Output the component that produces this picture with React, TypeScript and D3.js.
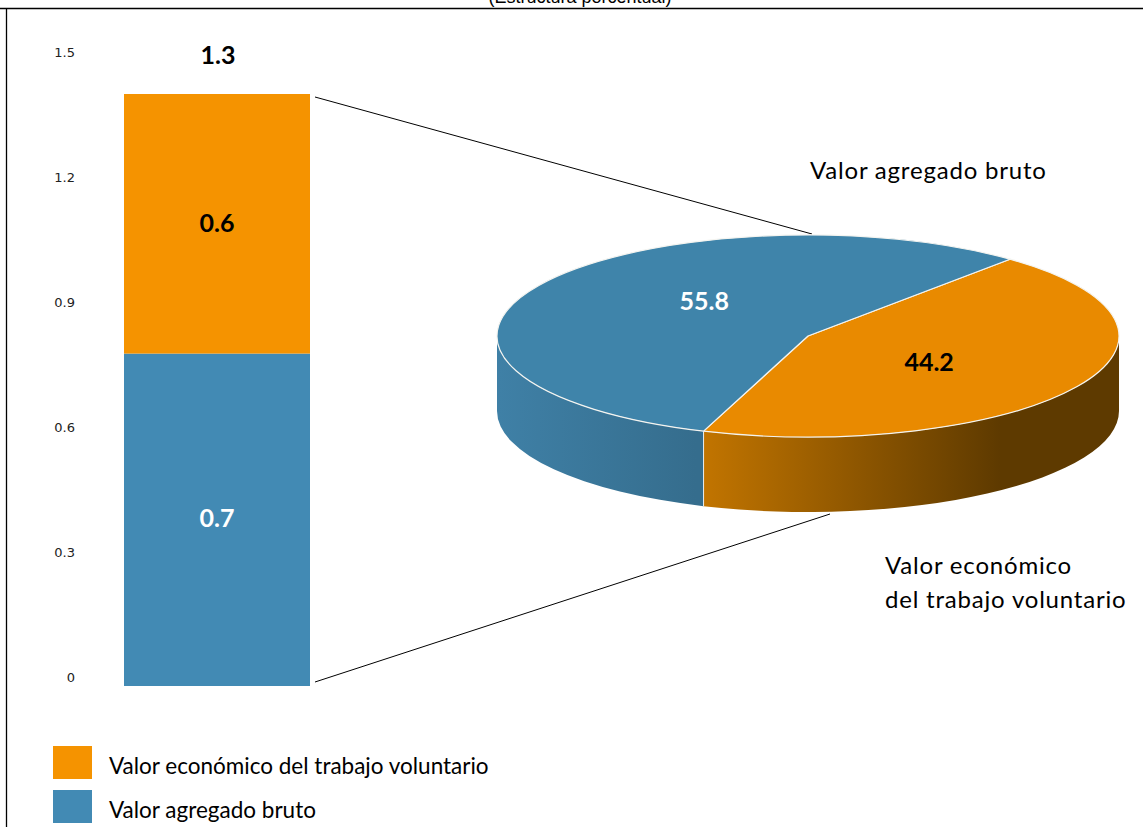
import * as d3 from "d3";

// bar: millions (stacked), pie: percent structure
const series = ["Valor económico del trabajo voluntario", "Valor agregado bruto"];
const barValues = [0.57, 0.73];
const pieValues = [44.2, 55.8];
const yTicks = [0, 0.3, 0.6, 0.9, 1.2, 1.5];

const W = 1143;
const H = 827;
const barColors = ["#f59300", "#428ab4"];
const topColors = ["#e98a00", "#3f84aa"];
const font = "Lato, 'Open Sans', sans-serif";

const App = () => {
  const total = d3.sum(barValues);

  // tick labels sit on their own axis scale, the bar on the value scale
  const axisY = d3.scaleLinear().domain([0, 1.5]).range([678, 53]);
  const barY = d3.scaleLinear().domain([0, total]).range([686, 94]);
  const barX = d3.scaleBand().domain(["total"]).range([124, 310]).padding(0);

  // stack: blue at the bottom, orange on top
  const stacked = [
    { key: series[1], y0: 0, y1: barValues[1], color: barColors[1] },
    { key: series[0], y0: barValues[1], y1: total, color: barColors[0] },
  ];

  // 3D pie
  const cx = 808, cy = 336, rx = 311, ry = 101, depth = 75;
  const startDeg = 40.5;
  const pieGen = d3.pie<number>().sort(null)
    .startAngle((startDeg * Math.PI) / 180)
    .endAngle((startDeg * Math.PI) / 180 + 2 * Math.PI);
  const slices = pieGen(pieValues);

  const pt = (a: number, dy = 0, k = 1) => [cx + k * rx * Math.sin(a), cy - k * ry * Math.cos(a) + dy];

  const topPath = (a0: number, a1: number) => {
    const p0 = pt(a0), p1 = pt(a1);
    const large = a1 - a0 > Math.PI ? 1 : 0;
    return `M${cx},${cy}L${p0[0]},${p0[1]}A${rx},${ry} 0 ${large} 1 ${p1[0]},${p1[1]}Z`;
  };

  const sidePath = (a0: number, a1: number) => {
    // clip to visible front half (pi/2 .. 3pi/2)
    const norm = (a: number) => ((a % (2 * Math.PI)) + 2 * Math.PI) % (2 * Math.PI);
    const s = norm(a0), e = s + (a1 - a0);
    const lo = Math.PI / 2, hi = (3 * Math.PI) / 2;
    const segs: [number, number][] = [];
    for (const off of [0, 2 * Math.PI, -2 * Math.PI]) {
      const ss = Math.max(s, lo + off), ee = Math.min(e, hi + off);
      if (ee > ss) segs.push([ss, ee]);
    }
    return segs.map(([b0, b1]) => {
      const p0 = pt(b0), p1 = pt(b1), q1 = pt(b1, depth), q0 = pt(b0, depth);
      return `M${p0[0]},${p0[1]}A${rx},${ry} 0 0 1 ${p1[0]},${p1[1]}L${q1[0]},${q1[1]}A${rx},${ry} 0 0 0 ${q0[0]},${q0[1]}Z`;
    }).join("");
  };

  const fmt = d3.format(".1f");
  const sideFills = ["url(#sideOrange)", "url(#sideBlue)"];
  const labelFill = ["#000", "#fff"];
  const midX = barX("total")! + barX.bandwidth() / 2;

  return (
    <svg width={W} height={H} style={{ position: "absolute", left: 0, top: 0, background: "#fff" }}>
      <defs>
        <linearGradient id="sideOrange" gradientUnits="userSpaceOnUse" x1={696} x2={1000} y1={0} y2={0}>
          <stop offset="0" stopColor="#c47600" />
          <stop offset="1" stopColor="#5e3a00" />
        </linearGradient>
        <linearGradient id="sideBlue" gradientUnits="userSpaceOnUse" x1={498} x2={696} y1={0} y2={0}>
          <stop offset="0" stopColor="#3f80a6" />
          <stop offset="1" stopColor="#356d8d" />
        </linearGradient>
      </defs>

      {/* frame and cut title */}
      <text x={580} y={3} textAnchor="middle" fontFamily="Arial, 'Liberation Sans'" fontSize={18} fill="#000">
        (Estructura porcentual)
      </text>
      <line x1={0} x2={W} y1={8.5} y2={8.5} stroke="#000" strokeWidth={1.3} />
      <line x1={6.5} x2={6.5} y1={8} y2={H} stroke="#000" strokeWidth={1.3} />

      {/* y tick labels */}
      {yTicks.map((t) => (
        <text key={t} x={75} y={axisY(t)} textAnchor="end" dominantBaseline="middle"
          fontFamily="'DejaVu Sans', Verdana, sans-serif" fontSize={13} fill="#222">
          {t === 0 ? "0" : fmt(t)}
        </text>
      ))}

      {/* stacked bar */}
      {stacked.map((s) => (
        <rect key={s.key} x={barX("total")} width={barX.bandwidth()} y={barY(s.y1)}
          height={barY(s.y0) - barY(s.y1)} fill={s.color} />
      ))}
      <text x={midX} y={barY((stacked[0].y0 + stacked[0].y1) / 2) + 1}
        textAnchor="middle" dominantBaseline="middle" fontFamily={font} fontWeight="bold" fontSize={25} fill="#fff">
        {fmt(barValues[1])}
      </text>
      <text x={midX} y={barY((stacked[1].y0 + stacked[1].y1) / 2) + 2}
        textAnchor="middle" dominantBaseline="middle" fontFamily={font} fontWeight="bold" fontSize={25} fill="#000">
        {fmt(barValues[0])}
      </text>
      <text x={midX + 1} y={58}
        textAnchor="middle" dominantBaseline="middle" fontFamily={font} fontWeight="bold" fontSize={25} fill="#000">
        {fmt(total)}
      </text>

      {/* connector lines */}
      <line x1={315} y1={97} x2={812} y2={234} stroke="#000" strokeWidth={1} />
      <line x1={315} y1={682} x2={830} y2={514} stroke="#000" strokeWidth={1} />

      {/* pie sides */}
      {slices.map((s, i) => (
        <path key={"side" + i} d={sidePath(s.startAngle, s.endAngle)} fill={sideFills[i]} stroke="none" />
      ))}
      {(() => {
        const a = slices[0].endAngle;
        const p = pt(a), q = pt(a, depth);
        return <line x1={p[0]} y1={p[1]} x2={q[0]} y2={q[1]} stroke="#e8eef2" strokeWidth={1} />;
      })()}
      {/* pie top */}
      {slices.map((s, i) => (
        <path key={"top" + i} d={topPath(s.startAngle, s.endAngle)} fill={topColors[i]}
          stroke="#f4f4f0" strokeWidth={1.2} strokeLinejoin="round" />
      ))}
      {slices.map((s, i) => {
        const mid = (s.startAngle + s.endAngle) / 2;
        const p = pt(mid, 0, i === 0 ? 0.45 : 0.4);
        return (
          <text key={"lbl" + i} x={p[0] + (i === 0 ? 0 : 4)} y={p[1] + (i === 0 ? 6 : -12)} textAnchor="middle"
            dominantBaseline="middle" fontFamily={font} fontWeight="bold" fontSize={25} fill={labelFill[i]}>
            {fmt(s.data)}
          </text>
        );
      })}

      {/* pie captions */}
      <text x={810} y={179} fontFamily={font} fontSize={24} fill="#000" letterSpacing={0.8}>{series[1]}</text>
      <text x={885} y={574} fontFamily={font} fontSize={24} fill="#000" letterSpacing={0.8}>Valor económico</text>
      <text x={885} y={608} fontFamily={font} fontSize={24} fill="#000" letterSpacing={0.8}>del trabajo voluntario</text>

      {/* legend */}
      {series.map((name, i) => (
        <g key={name} transform={`translate(53, ${746 + i * 44})`}>
          <rect width={39} height={33} fill={barColors[i]} />
          <text x={56} y={22} dominantBaseline="middle" fontFamily={font} fontSize={22.5} fill="#000">{name}</text>
        </g>
      ))}
    </svg>
  );
};

export default App;
